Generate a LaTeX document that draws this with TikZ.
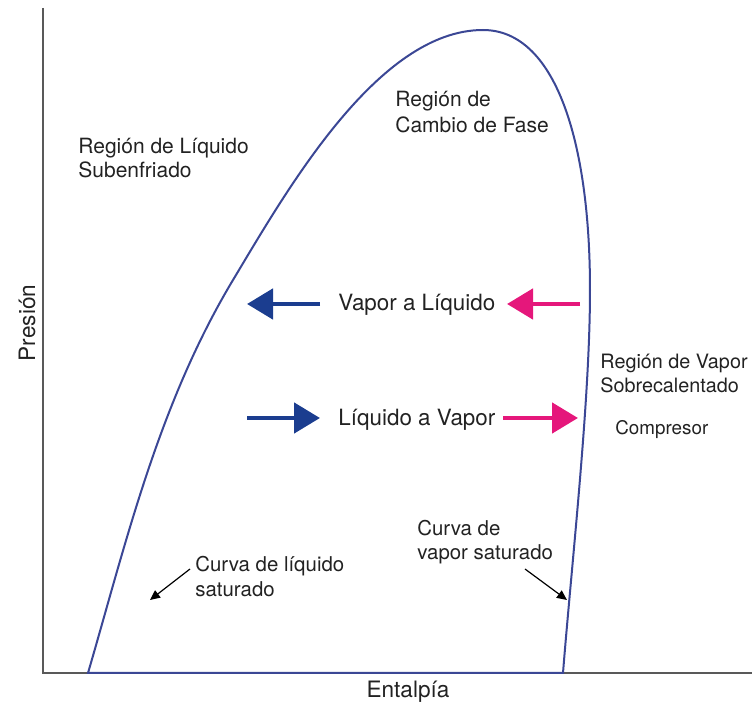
\documentclass[tikz,border=0pt]{standalone}
\usepackage{fontspec}
\setmainfont{TeX Gyre Heros}
\usepackage{xcolor}
\usepackage{tikz}
\usetikzlibrary{arrows.meta}
\definecolor{domo}{HTML}{3B4795}
\definecolor{azul}{HTML}{1B3D8F}
\definecolor{rosa}{HTML}{E5177B}
\definecolor{texto}{HTML}{222222}

\begin{document}
\begin{tikzpicture}[x=0.5pt,y=-0.5pt,
  etiq/.style={anchor=base west,inner sep=0pt,align=left,text=texto,
    font=\fontsize{10.5}{12}\selectfont},
  fase/.style={etiq,font=\fontsize{11.2}{13}\selectfont},
  flecha/.style={line width=2.4pt,-{Triangle[length=13pt,width=15pt]}},
  guia/.style={line width=0.6pt,black,-{Triangle[length=5pt,width=4.5pt]}}]
  \useasboundingbox (0,0) rectangle (752,706);
  % ejes
  \coordinate (tope) at (43,8);
  \coordinate (origen) at (43,673);
  \coordinate (fin) at (752,673);
  \draw[line width=1.3pt,black!65] (tope) -- (origen) -- (fin);
  \node[text=texto,font=\fontsize{11.3}{13}\selectfont] (ent) at (408,692) {Entalpía};
  \node[text=texto,font=\fontsize{11.3}{13}\selectfont,rotate=90] (pres) at (27,323) {Presión};
  % campana
  \coordinate (liq0) at (88,673);
  \coordinate (cima) at (483,30);
  \coordinate (vap0) at (563,673);
  \draw[domo,line width=1pt] (liq0)
    .. controls (126,543) and (158,405) .. (233,280)
    .. controls (287,190) and (378,30) .. (cima)
    .. controls (555,30) and (590,140) .. (590,290)
    .. controls (590,400) and (572,560) .. (vap0) -- cycle;
  % regiones (base = ultima linea)
  \node[etiq] (subliq) at (78,178) {Región de Líquido\\Subenfriado};
  \node[etiq,font=\fontsize{10.5}{13}\selectfont] (cambio) at (395,133) {Región de\\Cambio de Fase};
  \node[etiq,font=\fontsize{9.9}{12}\selectfont] (sobre) at (600,393) {Región de Vapor\\Sobrecalentado};
  \node[etiq,font=\fontsize{9.4}{12}\selectfont] (comp) at (615,435) {Compresor};
  % cambios de fase
  \node[fase] (vl) at (338,311) {Vapor a Líquido};
  \node[fase] (lv) at (338,426) {Líquido a Vapor};
  \coordinate (vl-a) at (320,304);
  \coordinate (vl-b) at (247,304);
  \coordinate (vl-c) at (580,304);
  \coordinate (vl-d) at (507,304);
  \coordinate (lv-a) at (247,418);
  \coordinate (lv-b) at (320,418);
  \coordinate (lv-c) at (503,418);
  \coordinate (lv-d) at (578,418);
  \draw[flecha,azul] (vl-a) -- (vl-b);
  \draw[flecha,rosa] (vl-c) -- (vl-d);
  \draw[flecha,azul] (lv-a) -- (lv-b);
  \draw[flecha,rosa] (lv-c) -- (lv-d);
  % curvas saturadas
  \node[etiq,font=\fontsize{10.2}{12.5}\selectfont] (cliq) at (195,597) {Curva de líquido\\saturado};
  \node[etiq,font=\fontsize{10.2}{12.5}\selectfont] (cvap) at (417,560) {Curva de\\vapor saturado};
  \coordinate (cliq-p) at (150,600);
  \coordinate (cvap-p) at (567,600);
  \draw[guia] (190,569) -- (cliq-p);
  \draw[guia] (525,569) -- (cvap-p);
\end{tikzpicture}
\end{document}
